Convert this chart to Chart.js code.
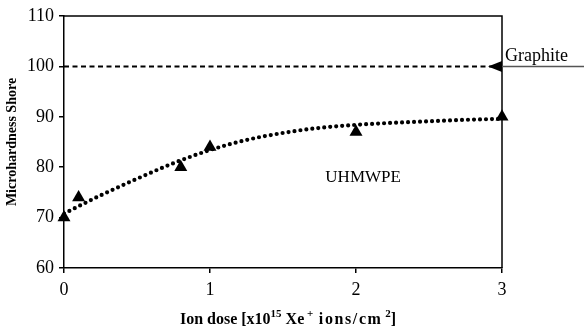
<!DOCTYPE html>
<html>
<head>
<meta charset="utf-8">
<script src="https://cdn.jsdelivr.net/npm/chart.js@4.4.1/dist/chart.umd.min.js"></script>
<style>
  html, body { margin: 0; padding: 0; background: #fff; }
  #wrap { width: 584px; height: 329px; }
</style>
</head>
<body>
<div id="wrap"><canvas id="chart" width="584" height="329"></canvas></div>
<script>
// measured points (UHMWPE)
const doses = [0, 0.1, 0.8, 1, 2, 3]
const hardness = [70, 74, 80, 84, 87, 90]
// graphite reference level
const graphiteDoses = [0, 3]
const graphiteHardness = [100, 100]
// trendline
const trendDoses = [0, 0.25, 0.5, 0.75, 1, 1.25, 1.5, 1.75, 2, 2.25, 2.5, 2.75, 3]
const trendHardness = [70.8, 74.4, 77.7, 80.8, 83.4, 85.4, 86.8, 87.8, 88.4, 88.8, 89.1, 89.4, 89.6]

const serif = 'Liberation Serif, Times New Roman, serif'

const toPts = (xs, ys) => xs.map((x, i) => ({ x: x, y: ys[i] }))

// x title with real superscripts: [text, superscript?, letter spacing]
const xTitleParts = [['Ion dose [x10', false, 0], ['15', true, 0], [' Xe', false, 0], [' +', true, 0],
    [' ions/cm', false, 1.6], [' 2', true, 0], [']', false, 0]]

// frame, graphite arrow and in-plot labels
const extras = {
    id: 'extras',
    afterDraw(chart) {
        const ctx = chart.ctx
        const a = chart.chartArea
        const xs = chart.scales.x, ys = chart.scales.y
        ctx.save()
        ctx.strokeStyle = '#000'
        ctx.lineWidth = 1.5
        ctx.beginPath()
        ctx.moveTo(a.left, a.top)
        ctx.lineTo(a.right, a.top)
        ctx.lineTo(a.right, a.bottom)
        ctx.stroke()

        // arrow pointing at the graphite line
        const yG = ys.getPixelForValue(100)
        const xR = xs.getPixelForValue(3)
        ctx.strokeStyle = '#555'
        ctx.lineWidth = 1.5
        ctx.beginPath()
        ctx.moveTo(xR, yG)
        ctx.lineTo(chart.width, yG)
        ctx.stroke()
        ctx.fillStyle = '#000'
        ctx.beginPath()
        ctx.moveTo(xR - 14, yG)
        ctx.lineTo(xR, yG - 5.5)
        ctx.lineTo(xR, yG + 5.5)
        ctx.closePath()
        ctx.fill()

        ctx.font = '18px ' + serif
        ctx.textBaseline = 'alphabetic'
        ctx.textAlign = 'left'
        ctx.fillText('Graphite', xR + 3, yG - 5)
        ctx.font = '17px ' + serif
        ctx.fillText('UHMWPE', xs.getPixelForValue(1.79), ys.getPixelForValue(77))

        // x axis title
        const big = 'bold 16px ' + serif, small = 'bold 11px ' + serif
        const widthOf = p => {
            ctx.font = p[1] ? small : big
            ctx.letterSpacing = p[2] + 'px'
            return ctx.measureText(p[0]).width
        }
        let total = 0
        xTitleParts.forEach(p => { total += widthOf(p) })
        let x = (a.left + a.right) / 2 - total / 2 + 5
        const base = 324
        xTitleParts.forEach(p => {
            const w = widthOf(p)
            ctx.fillText(p[0], x, p[1] ? base - 7 : base)
            x += w
        })
        ctx.restore()
    }
}

new Chart(document.getElementById('chart').getContext('2d'), {
    type: 'scatter',
    data: {
        datasets: [{
            label: 'Graphite',
            data: toPts(graphiteDoses, graphiteHardness),
            showLine: true,
            borderColor: '#000',
            borderWidth: 2,
            borderDash: [5, 3.5],
            pointRadius: 0
        }, {
            label: 'Trend',
            data: toPts(trendDoses, trendHardness),
            showLine: true,
            borderColor: '#000',
            borderWidth: 4.2,
            borderDash: [0, 6],
            borderCapStyle: 'round',
            cubicInterpolationMode: 'monotone',
            pointRadius: 0
        }, {
            label: 'UHMWPE',
            data: toPts(doses, hardness),
            pointStyle: 'triangle',
            pointRadius: 7.5,
            backgroundColor: '#000',
            borderColor: '#000',
            borderWidth: 0,
            clip: false
        }]
    },
    options: {
        responsive: false,
        animation: false,
        layout: { padding: { top: 16, right: 82, left: 0, bottom: 0 } },
        plugins: { legend: { display: false }, tooltip: { enabled: false } },
        scales: {
            x: {
                type: 'linear',
                min: 0,
                max: 3,
                afterFit: s => { s.height = 61 },
                ticks: { stepSize: 1, color: '#000', padding: 6, font: { family: serif, size: 18 } },
                grid: { drawOnChartArea: false, drawTicks: true, tickLength: 5, color: '#000', lineWidth: 1.5 },
                border: { display: true, color: '#000', width: 1.5 }
            },
            y: {
                min: 60,
                max: 110,
                afterFit: s => { s.width = 64 },
                ticks: { stepSize: 10, color: '#000', padding: 5, font: { family: serif, size: 18 } },
                grid: { drawOnChartArea: false, drawTicks: true, tickLength: 5, color: '#000', lineWidth: 1.5 },
                border: { display: true, color: '#000', width: 1.5 },
                title: {
                    display: true,
                    text: 'Microhardness Shore',
                    color: '#000',
                    padding: { bottom: 0 },
                    font: { family: serif, size: 14, weight: 'bold' }
                }
            }
        }
    },
    plugins: [extras]
});
</script>
</body>
</html>
